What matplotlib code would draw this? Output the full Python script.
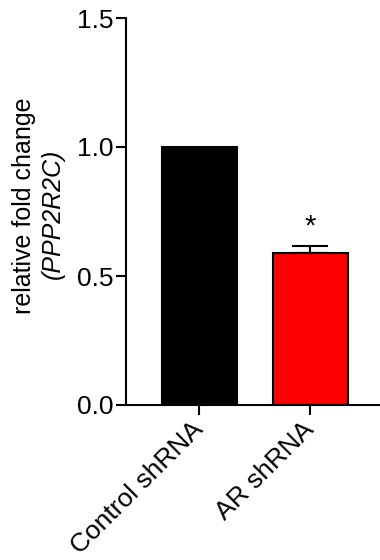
import matplotlib
matplotlib.use("Agg")
from matplotlib import pyplot as plt

groups = ["Control shRNA", "AR shRNA"]
fold_change = [1.0, 0.59]
sem = [0.0, 0.028]
bar_colors = ["#000000", "#ff0000"]
y_ticks = [0.0, 0.5, 1.0, 1.5]

plt.rcParams["font.family"] = ["Liberation Sans", "DejaVu Sans"]

W, H = 380, 560
fig = plt.figure(figsize=(W / 100, H / 100), dpi=100)
ax = fig.add_axes([126 / W, 1 - 405 / H, 1 - 126 / W, (405 - 18) / H])

x = list(range(len(groups)))
ax.bar(x, fold_change, width=0.675, color=bar_colors, edgecolor="black", linewidth=1.5, zorder=2)
ax.errorbar(x[1], fold_change[1], yerr=[[0], [sem[1]]], fmt="none", ecolor="black",
            elinewidth=1.5, capsize=13, capthick=1.5, zorder=1)
ax.text(x[1], fold_change[1] + sem[1] + 0.075, "*", ha="center", va="center", fontsize=21)

ax.set_xlim(-0.66, 1.63)
ax.set_ylim(0, 1.5)
ax.set_yticks(y_ticks)
ax.set_yticklabels([f"{t:.1f}" for t in y_ticks], fontsize=19)
ax.set_xticks(x)
ax.set_xticklabels(groups, fontsize=19, rotation=45, ha="right", va="center",
                   rotation_mode="anchor")

for side in ("top", "right"):
    ax.spines[side].set_visible(False)
for side in ("left", "bottom"):
    ax.spines[side].set_linewidth(1.5)
ax.tick_params(width=1.5, length=7, pad=2)
ax.tick_params(axis="x", pad=8)

# two-line y label, second line italic
fig.text(24.5 / W, 1 - 206 / H, "relative fold change", rotation=90, ha="center", va="center",
         fontsize=18)
fig.text(52.5 / W, 1 - 214 / H, "(PPP2R2C)", rotation=90, ha="center", va="center",
         fontsize=18, style="italic")

fig.savefig("out.png", dpi=100)
